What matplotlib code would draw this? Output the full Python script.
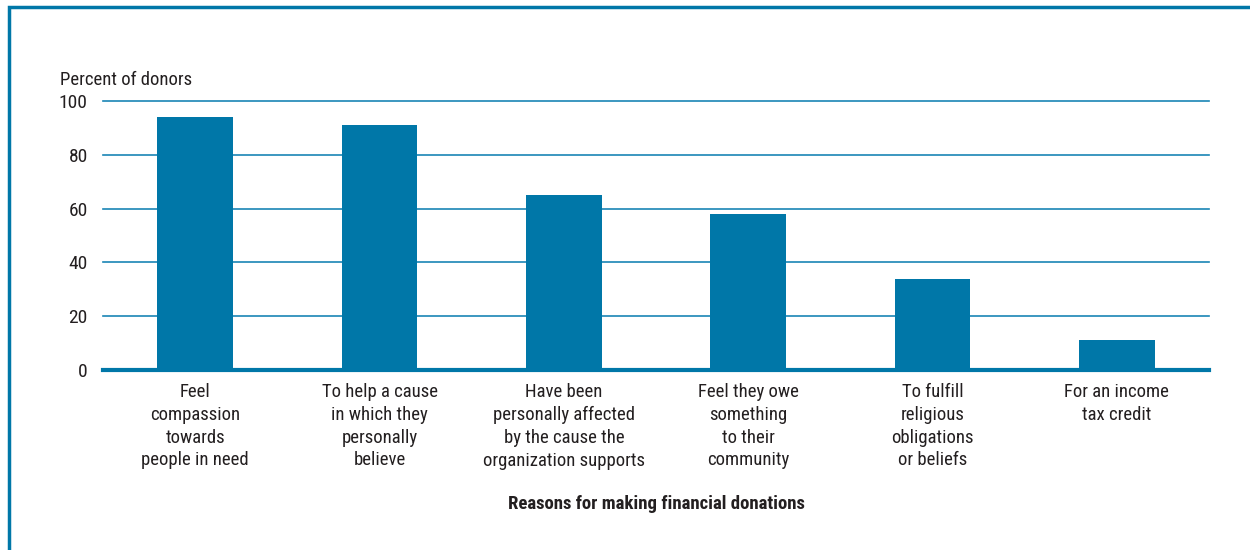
import matplotlib.pyplot as plt
from matplotlib.patches import Rectangle

# data
reasons = [
    "Feel\ncompassion\ntowards\npeople in need",
    "To help a cause\nin which they\npersonally\nbelieve",
    "Have been\npersonally affected\nby the cause the\norganization supports",
    "Feel they owe\nsomething\nto their\ncommunity",
    "To fulfill\nreligious\nobligations\nor beliefs",
    "For an income\ntax credit",
]
percent_donors = [94, 91, 65, 58, 34, 11]
y_ticks = [0, 20, 40, 60, 80, 100]

blue = '#0077A8'
txt = '#231f20'
plt.rcParams['font.family'] = ['Roboto Condensed', 'Liberation Sans Narrow', 'Liberation Sans', 'DejaVu Sans']

fig = plt.figure(figsize=(12.5, 5.5), dpi=100)
ax = fig.add_axes([0.0824, 0.3273, 0.8848, 0.4891])

x = list(range(len(reasons)))
ax.bar(x, percent_donors, width=0.41, color=blue, zorder=3)

ax.set_xlim(-0.5, len(reasons) - 0.5)
ax.set_ylim(0, 100)
ax.set_yticks(y_ticks)
ax.set_yticklabels([str(t) for t in y_ticks], fontsize=14, color=txt)
ax.set_xticks(x)
ax.set_xticklabels(reasons, fontsize=13.5, color=txt, linespacing=1.34, va='top')
ax.tick_params(axis='both', length=0)
ax.tick_params(axis='y', pad=11)
ax.tick_params(axis='x', pad=9.5)

for t in y_ticks[1:]:
    ax.axhline(t, color='#1a85b5', linewidth=1.2, zorder=1, clip_on=False)
ax.axhline(0, color=blue, linewidth=3, zorder=4, clip_on=False)

for s in ax.spines.values():
    s.set_visible(False)

ax.set_xlabel('Reasons for making financial donations', fontsize=13.5,
              fontweight='bold', color=txt, labelpad=18)
fig.text(0.048, 0.855, 'Percent of donors', fontsize=13.5, color=txt,
         ha='left', va='center')

# frame around the figure (left and top edges visible)
fig.add_artist(Rectangle((0.0072, -0.05), 1.1, 1.037, transform=fig.transFigure,
                         fill=False, edgecolor=blue, linewidth=2.5))

fig.savefig('out.png', dpi=100)
